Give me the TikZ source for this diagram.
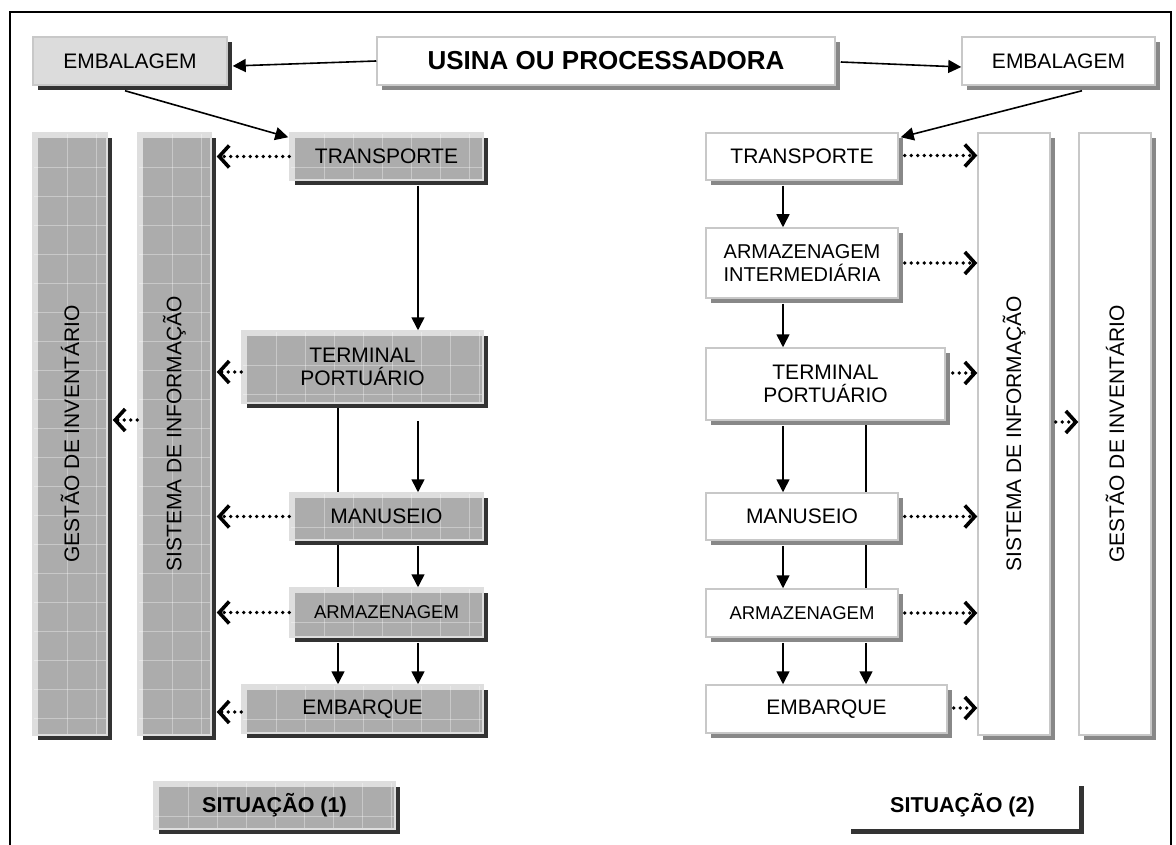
\documentclass[tikz,border=0pt]{standalone}
\usepackage{fontspec}
\setmainfont{Liberation Sans}
\usetikzlibrary{arrows.meta,calc,shadows,backgrounds}

\definecolor{texgray}{RGB}{172,172,172}
\definecolor{stripgray}{RGB}{222,222,222}
\definecolor{edgegray}{RGB}{200,200,200}
\definecolor{shadark}{RGB}{51,51,51}
\definecolor{shagray}{RGB}{136,136,136}
\definecolor{pkggray}{RGB}{220,220,220}

\begin{document}
\begin{tikzpicture}[x=1pt,y=-1pt,
  lbl/.style={font=\fontsize{21}{23.5}\selectfont},
  lblsm/.style={font=\fontsize{18.5}{21}\selectfont},
  lblmid/.style={font=\fontsize{20}{23}\selectfont},
  titlefont/.style={font=\bfseries\fontsize{26}{30}\selectfont},
  sitfont/.style={font=\bfseries\fontsize{21.5}{24}\selectfont},
  boxbase/.style={inner sep=0pt, align=center, line width=1.5pt},
  darkshadow/.style={drop shadow={shadow xshift=5pt,shadow yshift=-5pt,fill=shadark,opacity=1}},
  grayshadow/.style={drop shadow={shadow xshift=5pt,shadow yshift=-5pt,fill=shagray,opacity=1}},
  gridline/.style={white, opacity=.35, line width=.8pt},
  texbox/.style={boxbase, draw=stripgray, fill=texgray, darkshadow,
    path picture={
      \fill[stripgray] (path picture bounding box.north west) rectangle ([xshift=5pt]path picture bounding box.south west);
      \fill[stripgray] (path picture bounding box.north west) rectangle ([yshift=-5pt]path picture bounding box.north east);
      \foreach \k in {1,...,25}{
        \draw[gridline] ([xshift=\k*29pt+5pt]path picture bounding box.north west) -- ([xshift=\k*29pt+5pt]path picture bounding box.south west);
        \draw[gridline] ([yshift=-\k*29pt-5pt]path picture bounding box.north west) -- ([yshift=-\k*29pt-5pt]path picture bounding box.north east);
      }
    }},
  whitebox/.style={boxbase, draw=edgegray, fill=white, grayshadow},
  pkgbox/.style={boxbase, draw=edgegray, fill=pkggray, darkshadow},
  sitbox/.style={boxbase, fill=white, darkshadow},
  flow/.style={line width=1.6pt, -{Triangle[length=13pt,width=13pt]}},
  link/.style={line width=1.6pt},
  info/.style={line width=3.6pt, dash pattern=on 0pt off 6.5pt, line cap=round,
    -{Straight Barb[length=10pt,width=22pt,line width=3.6pt]}},
]
\useasboundingbox (0,0) rectangle (1176,845);

% outer frame (open at the bottom)
\draw[line width=2pt] (10,845) -- (10,12) -- (1171,12) -- (1171,845);

% columns used by the vertical connectors
\coordinate (colA) at (338,0);
\coordinate (colB) at (418,0);
\coordinate (colC) at (783,0);
\coordinate (colD) at (866,0);

% top row
\node[pkgbox, lbl, minimum width=194pt, minimum height=48pt] (embL) at (130,61) {EMBALAGEM};
\node[whitebox, titlefont, minimum width=458pt, minimum height=48pt] (usina) at (606,61) {USINA OU PROCESSADORA};
\node[whitebox, lbl, minimum width=193pt, minimum height=48pt] (embR) at (1058.5,61) {EMBALAGEM};

% situation 1
\node[texbox, minimum width=74pt, minimum height=602pt] (giL) at (70,434) {};
\node[lbl, rotate=90] (giLt) at (giL.center) {GESTÃO DE INVENTÁRIO};
\node[texbox, minimum width=73pt, minimum height=602pt] (siL) at (174.5,434) {};
\node[lbl, rotate=90] (siLt) at (siL.center) {SISTEMA DE INFORMAÇÃO};
\node[texbox, lbl, minimum width=193pt, minimum height=47pt] (trL) at (386.5,156.5) {TRANSPORTE};
\node[texbox, lbl, minimum width=241pt, minimum height=72pt] (tpL) at (362.5,367) {TERMINAL\\PORTUÁRIO};
\node[texbox, lbl, minimum width=193pt, minimum height=47pt] (maL) at (386.5,516.5) {MANUSEIO};
\node[texbox, lblsm, minimum width=193pt, minimum height=49pt] (arL) at (386.5,612.5) {ARMAZENAGEM};
\node[texbox, lbl, minimum width=241pt, minimum height=48pt] (ebL) at (362.5,709) {EMBARQUE};
\node[texbox, sitfont, minimum width=241pt, minimum height=47pt] (sit1) at (274.5,805.5) {SITUAÇÃO (1)};

% situation 2
\node[whitebox, lbl, minimum width=192pt, minimum height=47pt] (trR) at (802,156.5) {TRANSPORTE};
\node[whitebox, lblmid, minimum width=192pt, minimum height=70pt] (aiR) at (802,263) {ARMAZENAGEM\\INTERMEDIÁRIA};
\node[whitebox, lbl, minimum width=239pt, minimum height=72pt] (tpR) at (825.5,384) {TERMINAL\\PORTUÁRIO};
\node[whitebox, lbl, minimum width=192pt, minimum height=47pt] (maR) at (802,516.5) {MANUSEIO};
\node[whitebox, lblsm, minimum width=192pt, minimum height=48pt] (arR) at (802,613) {ARMAZENAGEM};
\node[whitebox, lbl, minimum width=241pt, minimum height=48pt] (ebR) at (826.5,709) {EMBARQUE};
\node[whitebox, minimum width=72pt, minimum height=602pt] (siR) at (1014,434) {};
\node[lbl, rotate=90] (siRt) at (siR.center) {SISTEMA DE INFORMAÇÃO};
\node[whitebox, minimum width=72pt, minimum height=602pt] (giR) at (1115,434) {};
\node[lbl, rotate=90] (giRt) at (giR.center) {GESTÃO DE INVENTÁRIO};
\node[sitbox, sitfont, minimum width=233pt, minimum height=48pt] (sit2) at (962.5,805) {SITUAÇÃO (2)};

% plain links running behind the handling boxes
\begin{pgfonlayer}{background}
  \draw[link] (tpL.south -| colA) -- (arL.north -| colA);
  \draw[link] (tpR.south -| colD) -- (arR.north -| colD);
\end{pgfonlayer}

% material flow
\draw[flow] (usina.west) -- ($(embL.east)+(5,5)$);
\draw[flow] ($(usina.east)+(5,1)$) -- ($(embR.west)+(0,6)$);
\draw[flow] ($(embL.south)+(-5,5)$) -- ($(trL.north west)+(-1,5)$);
\draw[flow] ($(embR.south)+(23.5,5)$) -- ($(trR.north east)+(2,5)$);

\draw[flow] ($(trL.south -| colB)+(0,5)$) -- (tpL.north -| colB);
\draw[flow] ($(tpL.south -| colB)+(0,17)$) -- (maL.north -| colB);
\draw[flow] ($(maL.south -| colB)+(0,5)$) -- (arL.north -| colB);
\draw[flow] ($(arL.south -| colA)+(0,5)$) -- (ebL.north -| colA);
\draw[flow] ($(arL.south -| colB)+(0,5)$) -- (ebL.north -| colB);

\draw[flow] ($(trR.south -| colC)+(0,5)$) -- (aiR.north -| colC);
\draw[flow] ($(aiR.south -| colC)+(0,5)$) -- (tpR.north -| colC);
\draw[flow] ($(tpR.south -| colC)+(0,5)$) -- (maR.north -| colC);
\draw[flow] ($(maR.south -| colC)+(0,5)$) -- (arR.north -| colC);
\draw[flow] ($(arR.south -| colC)+(0,5)$) -- (ebR.north -| colC);
\draw[flow] ($(arR.south -| colD)+(0,5)$) -- (ebR.north -| colD);

% information flow, situation 1
\draw[info] (trL.west) -- ($(trL.west -| siL.east)+(5,0)$);
\draw[info] ($(tpL.west)+(0,5)$) -- ($(tpL.west -| siL.east)+(5,5)$);
\draw[info] (maL.west) -- ($(maL.west -| siL.east)+(5,0)$);
\draw[info] (arL.west) -- ($(arL.west -| siL.east)+(5,0)$);
\draw[info] ($(ebL.west)+(0,3)$) -- ($(ebL.west -| siL.east)+(5,3)$);
\draw[info] ($(siL.west)+(0,-14)$) -- ($(siL.west -| giL.east)+(5,-14)$);

% information flow, situation 2
\draw[info] ($(trR.east)+(6,-1)$) -- ($(trR.east -| siR.west)+(0,-1)$);
\draw[info] ($(aiR.east)+(6,0)$) -- (aiR.east -| siR.west);
\draw[info] ($(tpR.east)+(7,-11)$) -- ($(tpR.east -| siR.west)+(0,-11)$);
\draw[info] ($(maR.east)+(6,0)$) -- (maR.east -| siR.west);
\draw[info] ($(arR.east)+(6,0)$) -- (arR.east -| siR.west);
\draw[info] ($(ebR.east)+(6,-1)$) -- ($(ebR.east -| siR.west)+(0,-1)$);
\draw[info] ($(siR.east)+(5,-12)$) -- ($(siR.east -| giR.west)+(0,-12)$);
\end{tikzpicture}
\end{document}
